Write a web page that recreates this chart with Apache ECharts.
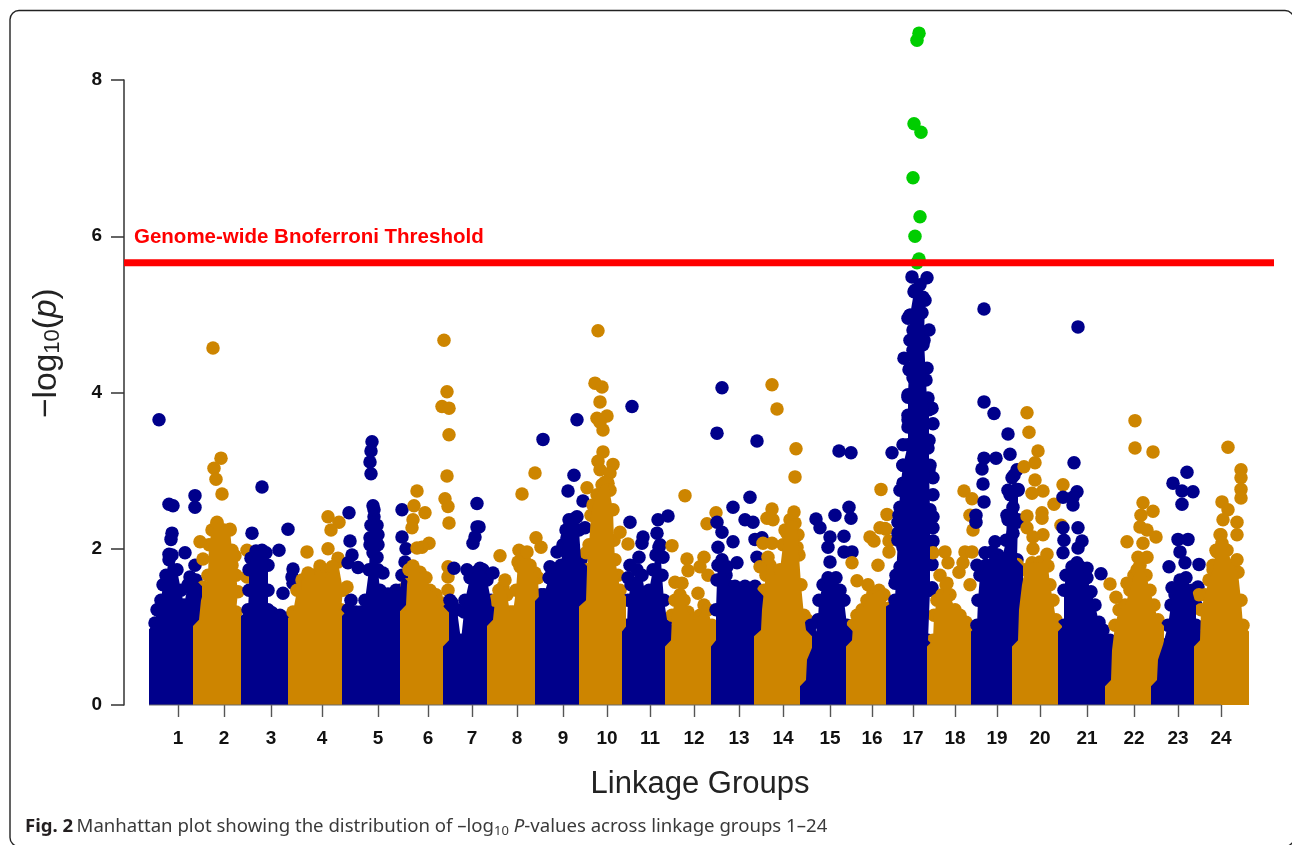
<!DOCTYPE html>
<html>
<head>
<meta charset="utf-8">
<style>html,body{margin:0;padding:0;background:#fff}#c{width:1292px;height:845px}</style>
<script src="https://cdn.jsdelivr.net/npm/echarts@6/dist/echarts.min.js"></script>
</head>
<body>
<div id="c"></div>
<script>
const groupLabels = ['1','2','3','4','5','6','7','8','9','10','11','12','13','14','15','16','17','18','19','20','21','22','23','24'];
const tickPositions = [178,224,271,322,378,428,472,517,563,607,650,694,739,783,830,872,913,955,997,1040,1087,1134,1178,1221];
const groupStarts = [149,193,241,288,342,400,443,487,535,579,622,665,711,754,800,846,886,927,971,1012,1058,1105,1151,1194,1249];
const thresholdValue = 5.66;
const thresholdSpan = [124,1274];

// Crest of each linkage group's solid mass: [position, -log10(p)]
const ridge1 = [[155,1.05],[157,1.22],[161,1.34],[163,1.54],[166,1.66],[169,1.86],[172,1.92],[177,1.73],[181,1.47],[184,1.28],[188,1.54],[192,1.60],[196,1.60]];
const ridge2 = [[199,1.09],[201,1.34],[204,1.47],[208,1.66],[209,2.05],[212,2.24],[217,2.32],[224,2.24],[230,2.24],[232,1.98],[232,1.79],[236,1.66],[238,1.45],[236,1.19]];
const ridge3 = [[248,1.22],[249,1.47],[249,1.73],[251,1.88],[256,1.97],[262,1.98],[266,1.95],[268,1.79],[268,1.47],[268,1.22],[272,1.18],[280,1.15],[286,1.11]];
const ridge4 = [[293,1.19],[297,1.47],[301,1.47],[302,1.60],[308,1.66],[315,1.66],[320,1.73],[325,1.63],[332,1.73],[338,1.83],[343,1.47],[341,1.22]];
const ridge5 = [[348,1.22],[351,1.34],[356,1.19],[361,1.19],[365,1.34],[369,1.73],[370,2.05],[371,2.30],[374,2.50],[377,2.30],[378,2.05],[378,1.73],[380,1.47],[388,1.42],[396,1.47],[400,1.47],[402,1.66]];
const ridge6 = [[406,1.28],[407,1.54],[409,1.73],[413,1.78],[420,1.70],[426,1.63],[430,1.47],[436,1.41],[441,1.31],[444,1.25]];
const ridge7 = [[449,0.83],[449,1.22],[452,1.31],[457,1.22],[461,0.83],[464,1.19],[465,1.34],[470,1.63],[476,1.70],[483,1.73],[487,1.60],[491,1.34],[492,1.22]];
const ridge8 = [[493,1.09],[495,1.34],[499,1.47],[503,1.51],[507,1.41],[510,1.19],[513,1.19],[516,1.47],[518,1.83],[524,1.88],[530,1.79],[533,1.70],[538,1.63],[539,1.34]];
const ridge9 = [[541,1.41],[544,1.41],[549,1.63],[555,1.70],[561,1.79],[563,2.05],[566,2.24],[570,2.30],[575,2.39],[579,2.24],[581,1.86]];
const ridge10 = [[586,1.34],[587,1.73],[589,2.05],[591,2.43],[593,2.56],[597,2.69],[602,2.82],[608,2.84],[613,2.50],[614,2.11],[615,1.86],[618,1.66],[620,1.47]];
const ridge11 = [[627,1.02],[628,1.34],[631,1.54],[637,1.73],[642,1.66],[646,1.37],[649,1.47],[653,1.73],[656,1.92],[660,2.05],[662,1.66],[664,1.34],[667,1.09]];
const ridge12 = [[671,0.83],[672,1.15],[675,1.34],[680,1.41],[684,1.34],[688,1.19],[694,1.09],[700,1.15],[704,1.28],[708,1.22],[712,1.02]];
const ridge13 = [[716,0.83],[716,1.22],[717,1.60],[718,1.79],[722,1.86],[726,1.66],[729,1.52],[735,1.52],[745,1.52],[755,1.52],[758,1.47]];
const ridge14 = [[761,0.96],[762,1.22],[764,1.47],[766,1.66],[770,1.79],[775,1.66],[780,1.73],[783,2.05],[785,2.24],[790,2.37],[795,2.33],[798,2.18],[799,1.92],[801,1.54],[804,1.15],[806,0.96]];
const ridge15 = [[806,0.32],[807,0.58],[811,0.70],[815,0.83],[818,1.09],[819,1.34],[823,1.54],[828,1.63],[836,1.63],[840,1.47],[844,1.34],[847,1.02]];
const ridge16 = [[852,0.83],[853,1.02],[857,1.15],[862,1.22],[867,1.34],[873,1.43],[879,1.47],[884,1.41],[888,1.24],[892,1.09]];
const ridge17 = [[895,1.34],[896,1.66],[898,2.11],[899,2.43],[900,2.75],[903,3.07],[908,3.33],[908,3.65],[908,3.97],[909,4.29],[910,4.67],[910,4.99],[914,5.29],[920,5.38],[925,5.18],[924,4.67],[926,4.16],[927,3.90],[929,3.78],[929,3.39],[929,3.01],[930,2.50],[930,1.98],[930,1.47],[928,0.83]];
const ridge18 = [[933,0.83],[934,1.15],[937,1.34],[942,1.41],[946,1.54],[950,1.41],[955,1.22],[960,1.15],[966,1.06],[970,0.99]];
const ridge19 = [[977,1.02],[978,1.34],[980,1.66],[986,1.79],[992,1.96],[998,1.92],[1002,1.86],[1006,2.11],[1007,2.43],[1010,2.69],[1014,2.94],[1018,2.75],[1018,2.37],[1017,1.86]];
const ridge20 = [[1018,0.83],[1019,1.22],[1022,1.54],[1025,1.73],[1032,1.82],[1040,1.83],[1048,1.78],[1050,1.54],[1053,1.34],[1056,1.09]];
const ridge21 = [[1064,1.02],[1064,1.47],[1066,1.66],[1072,1.77],[1080,1.77],[1087,1.63],[1091,1.45],[1095,1.28],[1099,1.06],[1103,0.96],[1110,0.83]];
const ridge22 = [[1111,0.32],[1112,0.70],[1115,1.02],[1119,1.22],[1125,1.28],[1130,1.47],[1134,1.66],[1140,1.79],[1146,1.66],[1150,1.47],[1154,1.28],[1158,1.09]];
const ridge23 = [[1157,0.32],[1158,0.58],[1163,0.77],[1168,1.02],[1171,1.28],[1175,1.41],[1180,1.60],[1186,1.63],[1192,1.47],[1196,1.28],[1196,1.02]];
const ridge24 = [[1200,0.83],[1201,1.22],[1205,1.41],[1209,1.60],[1213,1.73],[1216,1.98],[1221,2.18],[1227,1.98],[1233,1.79],[1238,1.70],[1241,1.34],[1243,1.02]];
const ridges = [ridge1,ridge2,ridge3,ridge4,ridge5,ridge6,ridge7,ridge8,ridge9,ridge10,ridge11,ridge12,ridge13,ridge14,ridge15,ridge16,ridge17,ridge18,ridge19,ridge20,ridge21,ridge22,ridge23,ridge24];

// Individually visible SNPs above the solid mass
const dots1 = [[159,3.65],[169,2.57],[173,2.55],[195,2.68],[195,2.53],[172,2.20],[171,2.12],[169,1.93],[185,1.95],[195,1.79],[190,1.64]];
const dots2 = [[213,4.57],[221,3.16],[214,3.03],[216,2.89],[222,2.70],[217,2.34],[230,2.25],[200,2.09],[235,1.91],[203,1.87],[247,1.98],[203,1.51],[247,1.64]];
const dots3 = [[252,2.20],[262,2.79],[288,2.25],[279,1.98],[293,1.74],[292,1.64],[293,1.56],[283,1.43]];
const dots4 = [[307,1.96],[328,2.00],[328,2.41],[339,2.34],[331,2.24],[338,1.88],[320,1.78],[308,1.69],[332,1.77],[347,1.51]];
const dots5 = [[372,3.37],[371,3.25],[370,3.11],[371,2.96],[373,2.55],[374,2.41],[349,2.46],[402,2.50],[350,2.10],[352,1.92],[348,1.82],[358,1.76],[402,2.15],[406,2.00],[405,1.83],[383,1.69],[375,2.28],[378,2.18],[370,2.14],[373,1.95],[377,1.89]];
const dots6 = [[444,4.67],[447,4.01],[442,3.82],[449,3.80],[449,3.46],[447,2.93],[445,2.64],[448,2.54],[449,2.33],[417,2.74],[414,2.55],[425,2.46],[413,2.37],[412,2.27],[429,2.07],[422,2.02],[417,2.01],[448,1.77],[448,1.64],[448,1.47]];
const dots7 = [[477,2.58],[477,2.28],[479,2.28],[475,2.15],[473,2.07],[454,1.75],[467,1.73],[480,1.75],[493,1.69],[450,1.34]];
const dots8 = [[500,1.91],[522,2.70],[535,2.97],[536,2.14],[541,2.02],[519,1.98],[527,1.96],[505,1.60],[520,1.77],[535,1.69]];
const dots9 = [[543,3.40],[577,3.65],[574,2.94],[568,2.74],[583,2.61],[577,2.41],[569,2.37],[570,2.24],[585,2.27],[557,1.96],[550,1.77],[567,2.14]];
const dots10 = [[598,4.79],[595,4.12],[602,4.07],[600,3.88],[597,3.67],[607,3.70],[600,3.62],[603,3.52],[603,3.24],[598,3.12],[613,3.08],[600,3.01],[610,2.97],[605,2.85],[610,2.75],[587,2.78],[620,2.21],[628,2.06],[586,1.95]];
const dots11 = [[632,3.82],[668,2.42],[658,2.37],[630,2.34],[657,2.20],[643,2.15],[642,2.07],[659,2.02],[639,1.89],[630,1.79],[663,1.89],[628,1.63]];
const dots12 = [[685,2.68],[672,2.04],[687,1.87],[688,1.72],[704,1.89],[700,1.77],[707,2.32],[716,2.46],[708,1.66],[675,1.57],[682,1.56],[698,1.43]];
const dots13 = [[722,4.06],[717,3.48],[757,3.38],[750,2.66],[733,2.53],[745,2.37],[753,2.34],[717,2.34],[722,2.21],[755,2.12],[762,2.14],[733,2.09],[757,1.89],[737,1.82],[718,2.02],[727,1.77]];
const dots14 = [[772,4.10],[777,3.79],[796,3.28],[795,2.92],[772,2.51],[767,2.39],[773,2.37],[794,2.47],[760,1.77],[763,2.07],[772,2.07],[768,1.89],[792,2.28],[787,2.20],[797,2.02],[807,1.09]];
const dots15 = [[839,3.25],[851,3.23],[849,2.53],[835,2.43],[816,2.38],[820,2.27],[851,2.39],[830,2.15],[828,2.02],[844,2.16],[844,1.96],[852,1.96],[830,1.83],[811,0.90],[811,1.02]];
const dots16 = [[881,2.76],[887,2.44],[880,2.27],[886,2.25],[870,2.15],[874,2.10],[889,2.10],[852,1.82],[857,1.59],[878,1.79],[868,1.54],[885,2.26],[889,1.96]];
const dots17 = [[912,5.48],[927,5.47],[915,5.31],[923,5.22],[916,5.29],[910,4.99],[908,4.95],[922,5.02],[929,4.80],[913,4.80],[923,4.61],[913,4.54],[904,4.44],[910,4.31],[927,4.31],[913,4.19],[918,4.08],[908,3.94],[928,3.93],[932,3.80],[908,3.71],[917,3.74],[933,3.60],[908,3.56],[923,3.43],[903,3.33],[892,3.23],[928,3.29],[903,3.07],[930,3.07],[933,2.91],[903,2.84],[933,2.69],[900,2.53],[933,2.41],[898,2.34],[933,2.27],[898,2.20],[903,2.02],[930,2.02],[900,1.77],[895,1.56],[933,2.10],[932,1.80],[932,1.50]];
const dots18 = [[933,1.95],[945,1.96],[965,1.96],[972,1.96],[948,1.82],[959,1.70],[940,1.66],[964,2.74],[972,2.64],[970,2.43],[973,2.24],[963,1.82],[970,1.54],[947,1.56]];
const dots19 = [[984,5.07],[984,3.88],[994,3.73],[1008,3.47],[1010,3.21],[984,3.16],[996,3.16],[982,3.02],[983,2.83],[984,2.60],[976,2.43],[976,2.34],[1017,3.01],[1012,2.91],[1008,2.75],[1018,2.76],[1013,2.53],[1008,2.37],[1017,2.34],[1013,2.20],[995,2.09],[985,1.95],[977,1.79]];
const dots20 = [[1027,3.74],[1029,3.49],[1038,3.25],[1035,3.10],[1024,3.05],[1035,2.88],[1043,2.74],[1032,2.71],[1054,2.57],[1027,2.42],[1042,2.46],[1042,2.39],[1027,2.27],[1043,2.18],[1033,2.15],[1033,2.00],[1047,1.93],[1017,1.80],[1063,2.82],[1061,2.30]];
const dots21 = [[1078,4.84],[1074,3.10],[1077,2.73],[1063,2.66],[1073,2.66],[1073,2.56],[1063,2.27],[1078,2.27],[1064,2.11],[1082,2.10],[1063,1.95],[1078,2.01],[1087,1.75],[1101,1.68],[1077,1.82]];
const dots22 = [[1135,3.64],[1135,3.29],[1153,3.24],[1143,2.59],[1153,2.48],[1141,2.43],[1140,2.28],[1147,2.24],[1156,2.15],[1127,2.09],[1143,2.07],[1138,1.89],[1147,1.89],[1110,1.55],[1116,1.38],[1127,1.56],[1137,1.73]];
const dots23 = [[1187,2.98],[1173,2.84],[1182,2.74],[1193,2.73],[1182,2.57],[1178,2.12],[1188,2.12],[1180,1.96],[1169,1.77],[1199,1.80],[1172,1.50],[1198,1.51],[1185,1.82]];
const dots24 = [[1228,3.30],[1241,3.01],[1241,2.91],[1241,2.76],[1241,2.65],[1222,2.60],[1228,2.50],[1223,2.37],[1237,2.34],[1220,2.18],[1237,2.18],[1222,2.07],[1217,1.96],[1199,1.41],[1237,1.86],[1213,1.79]];
const dots = [dots1,dots2,dots3,dots4,dots5,dots6,dots7,dots8,dots9,dots10,dots11,dots12,dots13,dots14,dots15,dots16,dots17,dots18,dots19,dots20,dots21,dots22,dots23,dots24];

const significant = [[919,8.60],[917,8.51],[914,7.44],[921,7.33],[913,6.75],[920,6.25],[915,6.00],[919,5.71],[917,5.66]];

const NAVY = '#00008B', ORANGE = '#CD8500', GREEN = '#00CD00', RED = '#FF0000';
const DOT = 13.5;
const labelFont = 'Liberation Sans';

const series = [];
groupLabels.forEach((g, i) => {
  const color = i % 2 ? ORANGE : NAVY;
  const r = ridges[i];
  const left = groupStarts[i];
  const right = Math.max(groupStarts[i + 1], r[r.length - 1][0] + 6);
  const mass = [[left, 0], [left, r[0][1] - 0.08]].concat(r, [[right, r[r.length - 1][1] - 0.08], [right, 0]]);
  series.push({
    type: 'line', name: 'LG' + g + ' mass', data: mass, symbol: 'none', silent: true, clip: false,
    lineStyle: { width: 0 }, areaStyle: { color: color, opacity: 1 }, animation: false
  });
  series.push({
    type: 'scatter', name: 'LG' + g, data: r.concat(dots[i]), symbolSize: DOT, clip: false,
    itemStyle: { color: color, opacity: 1 }, animation: false
  });
});
series.push({
  type: 'scatter', name: 'Significant', data: significant, symbolSize: DOT, clip: false,
  itemStyle: { color: GREEN, opacity: 1 }, animation: false
});
series.push({
  type: 'line', name: 'Threshold', data: thresholdSpan.map(x => [x, thresholdValue]), symbol: 'none', clip: false,
  lineStyle: { color: RED, width: 7, cap: 'butt' }, animation: false
});
series.push({
  type: 'line', name: 'Axis', data: [[groupStarts[0], 0], [tickPositions[23], 0]], symbol: 'none', clip: false,
  lineStyle: { color: '#6b6b6b', width: 1.2 }, animation: false
});

const tickLabelMap = {};
tickPositions.forEach((p, i) => { tickLabelMap[p] = groupLabels[i]; });

const option = {
  backgroundColor: '#fff',
  animation: false,
  grid: { left: 124, right: 16, top: 80, bottom: 140, containLabel: false },
  xAxis: {
    type: 'value', min: 124, max: 1276, splitLine: { show: false },
    axisLine: { show: false },
    axisTick: { show: true, customValues: tickPositions, length: 12, lineStyle: { color: '#555', width: 1.4 } },
    axisLabel: {
      show: true, customValues: tickPositions, margin: 24,
      formatter: v => tickLabelMap[v] || '',
      fontFamily: labelFont, fontWeight: 'bold', fontSize: 19, color: '#111'
    },
    name: 'Linkage Groups', nameLocation: 'middle', nameGap: 64,
    nameTextStyle: { fontFamily: labelFont, fontSize: 31, color: '#222' }
  },
  yAxis: {
    type: 'value', min: 0, max: 8, interval: 2, splitLine: { show: false },
    axisLine: { show: true, lineStyle: { color: '#333', width: 1.5 } },
    axisTick: { show: true, length: 13, lineStyle: { color: '#333', width: 1.5 } },
    axisLabel: { margin: 22, fontFamily: labelFont, fontWeight: 'bold', fontSize: 19, color: '#111' }
  },
  series: series,
  graphic: [
    { type: 'rect', silent: true, z: 100,
      shape: { x: 10, y: 10.5, width: 1284, height: 836, r: 9 },
      style: { fill: 'none', stroke: '#222', lineWidth: 1.4 } },
    { type: 'text', silent: true, z: 100, x: 134, y: 237.5,
      style: { text: 'Genome-wide Bnoferroni Threshold', fill: RED, font: 'bold 20.5px "Liberation Sans"', textVerticalAlign: 'middle' } },
    { type: 'text', silent: true, z: 100, x: 47, y: 418, rotation: Math.PI / 2, originX: 0, originY: 0,
      style: {
        text: '{a|\u2212log}{s|10}{a|(}{i|p}{a|)}',
        textVerticalAlign: 'middle',
        rich: {
          a: { font: '33.5px "Liberation Sans"', fill: '#222' },
          i: { font: 'italic 33.5px "Liberation Sans"', fill: '#222' },
          s: { font: '22px "Liberation Sans"', fill: '#222', verticalAlign: 'bottom', padding: [11, 0, 0, 0] }
        }
      } },
    { type: 'text', silent: true, z: 100, x: 25, y: 827,
      style: {
        text: '{b|Fig. 2} {t|Manhattan plot showing the distribution of \u2013log}{u|10}{t| }{it|P}{t|-values across linkage groups 1\u201324}',
        textVerticalAlign: 'middle',
        rich: {
          b: { font: 'bold 18.6px "Noto Sans"', fill: '#231f20' },
          t: { font: '18.6px "Noto Sans"', fill: '#3a3a3a' },
          it: { font: 'italic 18.6px "Noto Sans"', fill: '#3a3a3a' },
          u: { font: '13px "Noto Sans"', fill: '#3a3a3a', verticalAlign: 'bottom', padding: [8, 0, 0, 0] }
        }
      } }
  ]
};
const chart = echarts.init(document.getElementById('c'), null, { renderer: 'canvas' });
chart.setOption(option);
</script>
</body>
</html>
